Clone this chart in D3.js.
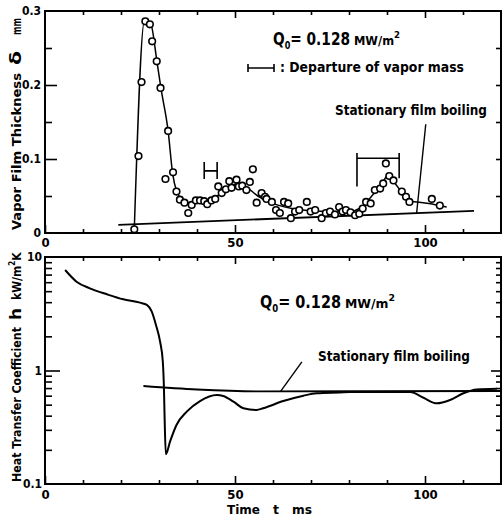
<!DOCTYPE html>
<html>
<head>
<meta charset="utf-8">
<script src="https://cdn.jsdelivr.net/npm/d3@7"></script>
<style>
body { margin: 0; background: #fff; }
svg text { font-family: "DejaVu Sans Condensed", "Liberation Sans Narrow", "Liberation Sans", sans-serif; font-weight: bold; fill: #000; }
</style>
</head>
<body>
<div id="chart"></div>
<script>
/* measured vapor film thickness (ms, mm) */
const filmT = [23.5, 24.6, 25.4, 26.4, 27.6, 28.2, 29.4, 30.4, 32.4, 31.7, 33.7, 34.6, 35.5, 36.7, 37.7, 38.6, 39.7, 40.8, 41.9, 42.7,
	43.8, 44.8, 45.6, 46.5, 47.6, 48.5, 49.1, 50.4, 51.0, 51.9, 53.0, 53.9, 54.7, 55.7, 57.0, 57.9, 58.3, 59.7, 60.8, 61.8,
	62.9, 64.0, 64.7, 65.8, 66.9, 68.9, 69.9, 71.1, 72.8, 73.9, 75.0, 76.3, 77.4, 78.3, 79.2, 80.4, 81.6, 82.7, 83.6, 84.5,
	85.7, 86.8, 88.2, 89.0, 89.7, 90.6, 91.7, 93.9, 95.0, 95.9, 101.8, 103.9];
const filmD = [0.005, 0.104, 0.204, 0.286, 0.282, 0.259, 0.232, 0.196, 0.138, 0.073, 0.082, 0.056, 0.045, 0.041, 0.027, 0.038, 0.044, 0.044, 0.043, 0.039,
	0.044, 0.046, 0.063, 0.054, 0.059, 0.070, 0.061, 0.072, 0.063, 0.064, 0.058, 0.069, 0.086, 0.041, 0.054, 0.049, 0.046, 0.042, 0.031, 0.027,
	0.042, 0.040, 0.020, 0.029, 0.031, 0.042, 0.029, 0.031, 0.020, 0.027, 0.029, 0.025, 0.035, 0.029, 0.031, 0.028, 0.024, 0.026, 0.033, 0.042,
	0.040, 0.058, 0.060, 0.067, 0.094, 0.077, 0.071, 0.056, 0.049, 0.042, 0.046, 0.037];

/* curve drawn through the points */
const fitT = [23.5, 26.2, 27.8, 29.4, 30.5, 32.4, 33.6, 34.6, 36, 38, 41, 44, 47, 50, 53, 56, 60, 65, 70, 75, 80, 83, 86, 88.5, 90.3, 92, 94, 96, 97.8, 101, 105.7];
const fitD = [0.005, 0.287, 0.283, 0.234, 0.196, 0.138, 0.08, 0.057, 0.046, 0.041, 0.042, 0.046, 0.056, 0.066, 0.062, 0.05, 0.04, 0.033, 0.030, 0.029, 0.029, 0.034, 0.05, 0.065, 0.078, 0.068, 0.054, 0.043, 0.042, 0.040, 0.035];

/* stationary film boiling, thickness */
const statTopT = [19.3, 112.9];
const statTopD = [0.011, 0.030];

/* departure of vapor mass brackets */
const depStart = [41.9, 82.1];
const depEnd = [45.3, 93.2];
const depTop = [0.096, 0.108];
const depBar = [0.084, 0.101];
const depLowL = [0.073, 0.063];
const depLowR = [0.073, 0.074];

/* heat transfer coefficient (ms, kW/m2K) */
const heatT = [5.3, 8.3, 11.8, 16.3, 20.6, 25, 26.8, 28.1, 29.2, 30.3, 31, 31.3, 31.5, 31.8, 32.9, 34.6, 37.3, 40.8, 45.2, 46.9,
	49.6, 52.2, 55.7, 57.4, 62.7, 68, 71.5, 77.6, 80.3, 96.1, 99.6, 103.1, 106.6, 110.1, 113.6, 118.9];
const heatH = [7.68, 6.06, 5.3, 4.69, 4.24, 3.96, 3.78, 3.3, 2.52, 1.79, 1.2, 0.70, 0.354, 0.183, 0.236, 0.331, 0.434, 0.538, 0.608, 0.596,
	0.531, 0.465, 0.449, 0.465, 0.538, 0.60, 0.63, 0.64, 0.645, 0.645, 0.575, 0.514, 0.55, 0.63, 0.68, 0.69];

/* stationary film boiling, heat transfer */
const statBotT = [25.9, 40, 56, 120];
const statBotH = [0.73, 0.68, 0.655, 0.66];

const xTicks = d3.range(0, 121, 10);
const xLabels = [0, 50, 100];

const width = 502, height = 518;

const svg = d3.select("#chart").append("svg").attr("width", width).attr("height", height);

const x = d3.scaleLinear().domain([0, 120]).range([45, 501]);
const yTop = d3.scaleLinear().domain([0, 0.3]).range([233, 11]);
const yBot = d3.scaleLog().domain([0.1, 10]).range([484, 257]);

function tickSet(axis, pos, scale, values, size, fmt, pad, fs) {
	const g = svg.append("g")
		.attr("transform", pos)
		.call(axis(scale).tickValues(values).tickSize(-size).tickPadding(pad || 4).tickFormat(fmt || (() => "")));
	g.select(".domain").remove();
	g.selectAll("line").attr("stroke-width", 1.6);
	g.attr("font-size", fs || 13);
	return g;
}

/* ---- top panel axes ---- */
const majX = d => xLabels.includes(d);
tickSet(d3.axisBottom, "translate(0,233)", x, xTicks.filter(d => !majX(d)), 4);
tickSet(d3.axisBottom, "translate(0,233)", x, xLabels, 8, d => d, 5);
tickSet(d3.axisTop, "translate(0,11)", x, xTicks.filter(d => !majX(d)), 4);
tickSet(d3.axisTop, "translate(0,11)", x, [50, 100], 7);
tickSet(d3.axisLeft, "translate(45,0)", yTop, [0.05, 0.15, 0.25], 7);
tickSet(d3.axisLeft, "translate(45,0)", yTop, [0.1, 0.2], 12);
tickSet(d3.axisLeft, "translate(45,0)", yTop, [0, 0.1, 0.2, 0.3], 0, d => d === 0 ? "0" : d3.format(".1f")(d), 4, 12);
tickSet(d3.axisRight, "translate(501,0)", yTop, [0.05, 0.1, 0.15, 0.2, 0.25], 5);

/* ---- bottom panel axes ---- */
const logMinor = [0.2, 0.3, 0.4, 0.5, 0.6, 0.7, 0.8, 0.9, 2, 3, 4, 5, 6, 7, 8, 9];
tickSet(d3.axisBottom, "translate(0,484)", x, xTicks.filter(d => !majX(d)), 4);
tickSet(d3.axisBottom, "translate(0,484)", x, xLabels, 8, d => d, 6);
tickSet(d3.axisTop, "translate(0,257)", x, xTicks.filter(d => !majX(d)), 4);
tickSet(d3.axisTop, "translate(0,257)", x, [50, 100], 7);
tickSet(d3.axisLeft, "translate(45,0)", yBot, logMinor, 7);
tickSet(d3.axisLeft, "translate(45,0)", yBot, [1], 15);
tickSet(d3.axisLeft, "translate(45,0)", yBot, [0.1, 1, 10], 0, d => d, 3, 12);
tickSet(d3.axisRight, "translate(501,0)", yBot, logMinor, 5);
tickSet(d3.axisRight, "translate(501,0)", yBot, [1], 10);

/* frames */
svg.append("rect").attr("x", x(0)).attr("y", yTop(0.3)).attr("width", x(120) - x(0)).attr("height", yTop(0) - yTop(0.3))
	.attr("fill", "none").attr("stroke", "#000").attr("stroke-width", 2);
svg.append("rect").attr("x", x(0)).attr("y", yBot(10)).attr("width", x(120) - x(0)).attr("height", yBot(0.1) - yBot(10))
	.attr("fill", "none").attr("stroke", "#000").attr("stroke-width", 2);

/* ---- top panel marks ---- */
const lineTop = d3.line().x(d => x(d[0])).y(d => yTop(d[1]));

svg.append("path")
	.attr("d", lineTop(statTopT.map((t, i) => [t, statTopD[i]])))
	.attr("fill", "none").attr("stroke", "#000").attr("stroke-width", 1.8);

svg.append("path")
	.attr("d", lineTop.curve(d3.curveMonotoneX)(fitT.map((t, i) => [t, fitD[i]])))
	.attr("fill", "none").attr("stroke", "#000").attr("stroke-width", 1.5);

svg.append("g").selectAll("circle")
	.data(filmT.map((t, i) => [t, filmD[i]]))
	.enter().append("circle")
	.attr("cx", d => x(d[0]))
	.attr("cy", d => yTop(d[1]))
	.attr("r", 3.3)
	.attr("fill", "#fff").attr("stroke", "#000").attr("stroke-width", 1.6);

/* departure brackets */
depStart.forEach((s, i) => {
	const e = depEnd[i];
	const p = d3.path();
	p.moveTo(x(s), yTop(depTop[i])); p.lineTo(x(s), yTop(depLowL[i]));
	p.moveTo(x(e), yTop(depTop[i])); p.lineTo(x(e), yTop(depLowR[i]));
	p.moveTo(x(s), yTop(depBar[i])); p.lineTo(x(e), yTop(depBar[i]));
	svg.append("path").attr("d", p.toString()).attr("fill", "none").attr("stroke", "#000").attr("stroke-width", 1.6);
});

/* legend symbol for departure */
const ls = d3.path();
ls.moveTo(248, 64); ls.lineTo(248, 72);
ls.moveTo(274, 64); ls.lineTo(274, 72);
ls.moveTo(248, 68); ls.lineTo(274, 68);
svg.append("path").attr("d", ls.toString()).attr("stroke", "#000").attr("stroke-width", 1.6);

function txt(x0, y0, s, len, size) {
	return svg.append("text").attr("x", x0).attr("y", y0).attr("font-size", size || 14)
		.attr("textLength", len).attr("lengthAdjust", "spacingAndGlyphs").text(s);
}
txt(280, 72, ": Departure of vapor mass", 184, 14);

/* stationary film boiling label, top */
svg.append("line")
	.attr("x1", x(97.8)).attr("y1", yTop(0.027)).attr("x2", x(100.2)).attr("y2", yTop(0.147))
	.attr("stroke", "#000").attr("stroke-width", 1.4);
txt(335, 115, "Stationary film boiling", 152, 14);

function qLabel(x0, y0, w) {
	const t = svg.append("text").attr("x", x0).attr("y", y0).attr("font-size", 17)
		.attr("textLength", w[0]).attr("lengthAdjust", "spacingAndGlyphs");
	t.append("tspan").text("Q");
	t.append("tspan").attr("font-size", 10).attr("dy", 4).text("0");
	t.append("tspan").attr("dy", -4).text("= 0.128");
	const u = svg.append("text").attr("x", x0 + w[0] + 4).attr("y", y0).attr("font-size", 12)
		.attr("textLength", w[1]).attr("lengthAdjust", "spacingAndGlyphs");
	u.append("tspan").text("MW/m");
	u.append("tspan").attr("font-size", 9).attr("dy", -7).text("2");
}
qLabel(273, 45, [77, 46]);
qLabel(260, 308, [81, 50]);

/* ---- bottom panel marks ---- */
const lineBot = d3.line().x(d => x(d[0])).y(d => yBot(d[1]));

svg.append("path")
	.attr("d", lineBot.curve(d3.curveMonotoneX)(statBotT.map((t, i) => [t, statBotH[i]])))
	.attr("fill", "none").attr("stroke", "#000").attr("stroke-width", 1.8);

svg.append("path")
	.attr("d", lineBot.curve(d3.curveMonotoneX)(heatT.map((t, i) => [t, heatH[i]])))
	.attr("fill", "none").attr("stroke", "#000").attr("stroke-width", 2);

svg.append("line")
	.attr("x1", x(62)).attr("y1", yBot(0.655)).attr("x2", x(67.6)).attr("y2", yBot(1.19))
	.attr("stroke", "#000").attr("stroke-width", 1.4);
txt(318, 361, "Stationary film boiling", 152, 14);

/* ---- axis titles ---- */
function piece(g, xp, s, len, size) {
	return g.append("text").attr("x", xp).attr("y", 0).attr("font-size", size || 13)
		.attr("textLength", len).attr("lengthAdjust", "spacingAndGlyphs").text(s);
}
const yt1 = svg.append("g").attr("transform", "translate(21,230) rotate(-90)");
piece(yt1, 0, "Vapor Film Thickness", 157);
piece(yt1, 165, "δ", 14, 16);
piece(yt1, 195, "mm", 17);

const yt2 = svg.append("g").attr("transform", "translate(21,482) rotate(-90)");
piece(yt2, 0, "Heat Transfer Coefficient", 155);
piece(yt2, 162, "h", 12, 16);
const kw = yt2.append("text").attr("x", 182).attr("y", 0).attr("font-size", 12);
kw.append("tspan").text("kW/m");
kw.append("tspan").attr("font-size", 8).attr("dy", -6).text("2");
kw.append("tspan").attr("dy", 6).text("K");

const xt = svg.append("g").attr("transform", "translate(0,514)");
piece(xt, 227, "Time", 33);
piece(xt, 273, "t", 6);
piece(xt, 292, "ms", 20);
</script>
</body>
</html>
